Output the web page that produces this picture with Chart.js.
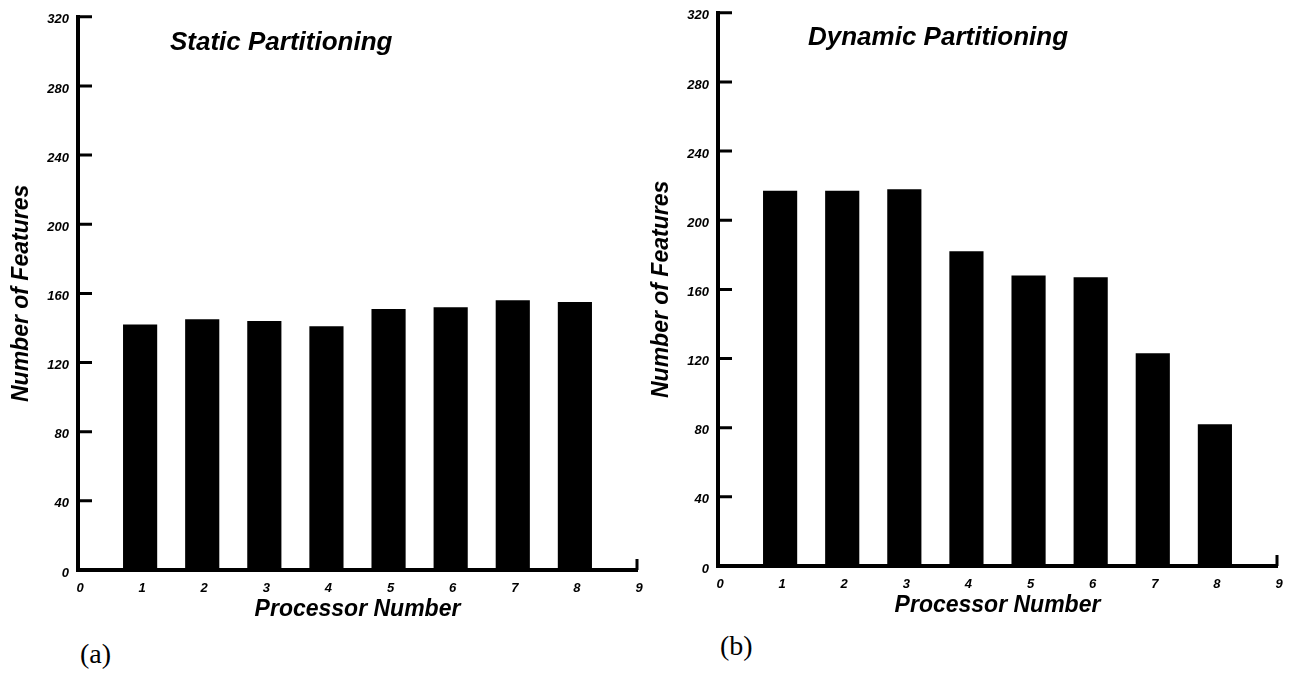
<!DOCTYPE html>
<html>
<head>
<meta charset="utf-8">
<script src="https://cdn.jsdelivr.net/npm/chart.js@4"></script>
<style>
  body { margin: 0; background: #fff; width: 1293px; height: 675px; position: relative; overflow: hidden; }
  .box { position: absolute; width: 660px; height: 630px; }
  .ttl { position: absolute; font: italic bold 26px "Liberation Sans", Arial, sans-serif; line-height: 26px; color: #000; white-space: nowrap; }
  .lab { position: absolute; font: 28px "Liberation Serif", "Times New Roman", serif; line-height: 28px; color: #000; }
</style>
</head>
<body>
<div class="box" style="left:0;top:0"><canvas id="staticChart" width="660" height="630"></canvas></div>
<div class="box" style="left:640px;top:-4px"><canvas id="dynamicChart" width="660" height="630"></canvas></div>
<div class="ttl" style="left:170px;top:28px">Static Partitioning</div>
<div class="ttl" style="left:808px;top:23px">Dynamic Partitioning</div>
<div class="lab" style="left:80px;top:640px">(a)</div>
<div class="lab" style="left:720px;top:632px">(b)</div>
<script>
// processor numbers on the x axis
const processors = [1, 2, 3, 4, 5, 6, 7, 8];
// number of features per processor
const staticFeatures = [142, 145, 144, 141, 151, 152, 156, 155];
const dynamicFeatures = [217, 217, 218, 182, 168, 167, 123, 82];
// tick labels
const xTickLabels = ['0', '1', '2', '3', '4', '5', '6', '7', '8', '9'];
const yTickValues = [0, 40, 80, 120, 160, 200, 240, 280, 320];

const tickFont = { family: '"Liberation Sans", Arial, sans-serif', size: 13, weight: 'bold', style: 'italic' };
const titleFont = { family: '"Liberation Sans", Arial, sans-serif', size: 23, weight: 'bold', style: 'italic' };

// y ticks point into the plot, plus the little end mark at x = 9
const innerTicks = {
  id: 'innerTicks',
  afterDraw(chart) {
    const { ctx, chartArea, scales: { x, y } } = chart;
    ctx.save();
    ctx.strokeStyle = '#000';
    ctx.lineWidth = 3;
    ctx.beginPath();
    y.ticks.forEach(t => {
      const py = y.getPixelForValue(t.value);
      ctx.moveTo(chartArea.left, py);
      ctx.lineTo(chartArea.left + 14, py);
    });
    const px = x.getPixelForValue(x.max);
    ctx.moveTo(px, chartArea.bottom);
    ctx.lineTo(px, chartArea.bottom - 11);
    ctx.stroke();
    ctx.restore();
  }
};

function makeChart(id, values) {
  return new Chart(document.getElementById(id), {
    type: 'bar',
    data: {
      datasets: [{
        data: processors.map((p, i) => ({ x: p, y: values[i] })),
        backgroundColor: '#000',
        borderWidth: 0,
        barPercentage: 0.55,
        categoryPercentage: 1
      }]
    },
    options: {
      responsive: false,
      animation: false,
      layout: { padding: { top: 15, right: 23, left: 0, bottom: 0 } },
      plugins: { legend: { display: false }, tooltip: { enabled: false } },
      scales: {
        x: {
          type: 'linear',
          min: 0,
          max: 9,
          offset: false,
          grid: { display: false, drawTicks: false },
          border: { color: '#000', width: 4 },
          afterBuildTicks: s => { s.ticks = xTickLabels.map((l, i) => ({ value: i })); },
          ticks: { font: tickFont, color: '#000', padding: 11, labelOffset: 2, maxRotation: 0, autoSkip: false,
                   callback: v => xTickLabels[v] },
          title: { display: true, text: 'Processor Number', font: titleFont, color: '#000', padding: { top: 0, bottom: 7 } },
          afterFit: s => { s.height = 60; }
        },
        y: {
          min: 0,
          max: 320,
          grid: { display: false, drawTicks: false },
          border: { color: '#000', width: 4 },
          afterBuildTicks: s => { s.ticks = yTickValues.map(v => ({ value: v })); },
          ticks: { font: tickFont, color: '#000', padding: 9, labelOffset: 3, callback: v => String(v) },
          title: { display: true, text: 'Number of Features', font: titleFont, color: '#000', padding: { top: 8, bottom: 0 } },
          afterFit: s => { s.width = 78; }
        }
      }
    },
    plugins: [innerTicks]
  });
}

makeChart('staticChart', staticFeatures);
makeChart('dynamicChart', dynamicFeatures);
</script>
</body>
</html>
